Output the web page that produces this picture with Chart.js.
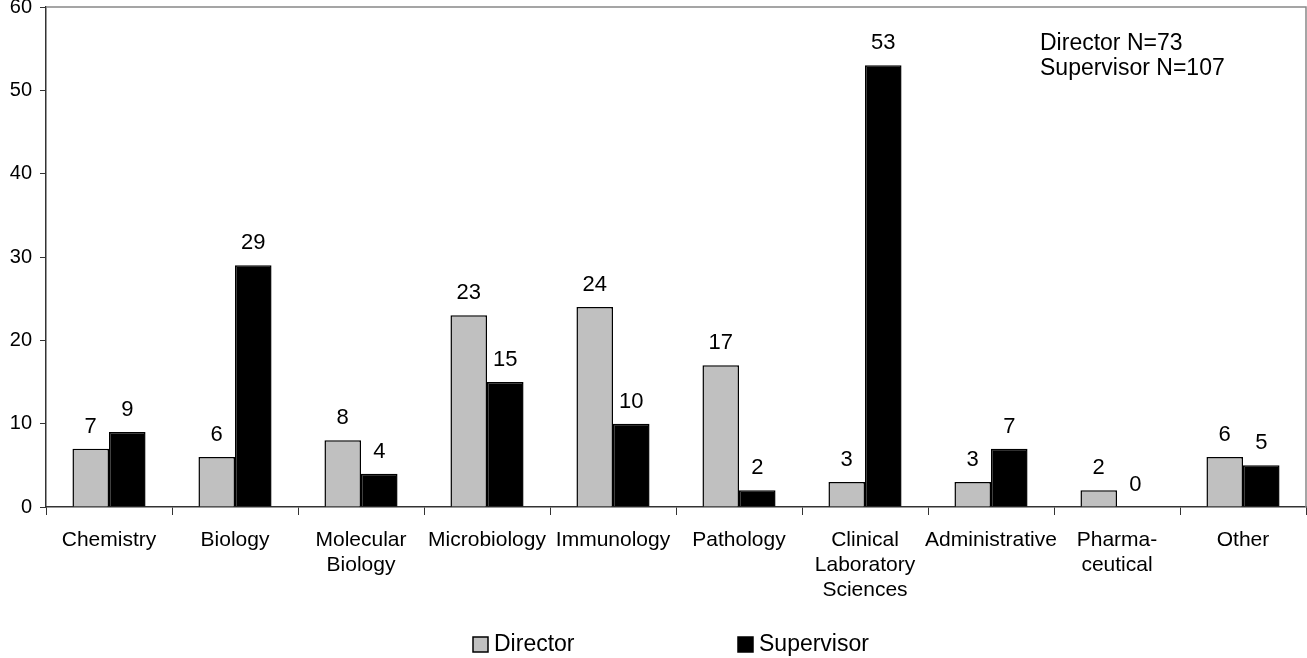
<!DOCTYPE html>
<html>
<head>
<meta charset="utf-8">
<script src="https://cdn.jsdelivr.net/npm/chart.js@4.4.1/dist/chart.umd.min.js"></script>
<style>
  html, body { margin: 0; padding: 0; background: #fff; }
  #wrap { width: 1307px; height: 658px; position: relative; }
</style>
</head>
<body>
<div id="wrap"><canvas id="chart"></canvas></div>
<script>
// Data
const categories = [
    'Chemistry', 'Biology', ['Molecular', 'Biology'], 'Microbiology', 'Immunology',
    'Pathology', ['Clinical', 'Laboratory', 'Sciences'], 'Administrative',
    ['Pharma-', 'ceutical'], 'Other'
];
const directorValues = [7, 6, 8, 23, 24, 17, 3, 3, 2, 6];
const supervisorValues = [9, 29, 4, 15, 10, 2, 53, 7, 0, 5];
const seriesNames = ['Director', 'Supervisor'];
const noteLines = ['Director N=73', 'Supervisor N=107'];
const yTicks = [0, 10, 20, 30, 40, 50, 60];

const FONT = '"Liberation Sans", Arial, sans-serif';

// Gray frame on top and right of the plot area
const framePlugin = {
    id: 'frame',
    beforeDatasetsDraw(chart) {
        const a = chart.chartArea;
        const ctx = chart.ctx;
        ctx.save();
        ctx.strokeStyle = '#888';
        ctx.lineWidth = 1.5;
        ctx.beginPath();
        ctx.moveTo(a.left, a.top);
        ctx.lineTo(a.right, a.top);
        ctx.lineTo(a.right, a.bottom);
        ctx.stroke();
        ctx.restore();
    }
};

// Value labels above each bar
const valueLabels = {
    id: 'valueLabels',
    afterDatasetsDraw(chart) {
        const ctx = chart.ctx;
        ctx.save();
        ctx.font = '22px ' + FONT;
        ctx.fillStyle = '#000';
        ctx.textAlign = 'center';
        ctx.textBaseline = 'alphabetic';
        chart.data.datasets.forEach((ds, di) => {
            const meta = chart.getDatasetMeta(di);
            meta.data.forEach((bar, i) => {
                ctx.fillText(String(ds.data[i]), bar.x, bar.y - 16);
            });
        });
        ctx.restore();
    }
};

// Legend at the bottom and the N note at top right
const extras = {
    id: 'extras',
    afterDraw(chart) {
        const ctx = chart.ctx;
        ctx.save();
        ctx.font = '23px ' + FONT;
        ctx.textBaseline = 'middle';
        ctx.textAlign = 'left';
        const legendX = [473, 738];
        chart.data.datasets.forEach((ds, i) => {
            const x = legendX[i];
            ctx.fillStyle = ds.backgroundColor;
            ctx.fillRect(x, 637, 15, 15);
            ctx.strokeStyle = '#000';
            ctx.lineWidth = 1.5;
            ctx.strokeRect(x, 637, 15, 15);
            ctx.fillStyle = '#000';
            ctx.fillText(ds.label, x + 21, 645);
        });
        ctx.textBaseline = 'alphabetic';
        noteLines.forEach((t, i) => {
            ctx.fillText(t, 1040, 50 + i * 25);
        });
        ctx.restore();
    }
};

new Chart(document.getElementById('chart'), {
    type: 'bar',
    data: {
        labels: categories,
        datasets: [{
            label: seriesNames[0],
            data: directorValues,
            backgroundColor: '#C0C0C0',
            borderColor: '#000',
            borderWidth: 1.5,
            categoryPercentage: 0.58,
            barPercentage: 1.0
        }, {
            label: seriesNames[1],
            data: supervisorValues,
            backgroundColor: '#000',
            borderColor: '#000',
            borderWidth: 1.5,
            categoryPercentage: 0.58,
            barPercentage: 1.0
        }]
    },
    options: {
        responsive: true,
        maintainAspectRatio: false,
        animation: false,
        layout: { padding: { top: 7, right: 1, left: 0, bottom: 0 } },
        plugins: {
            legend: { display: false },
            tooltip: { enabled: false }
        },
        scales: {
            x: {
                grid: {
                    display: true,
                    drawOnChartArea: false,
                    drawTicks: true,
                    tickLength: 8,
                    color: '#333',
                    offset: true
                },
                border: { display: true, color: '#333', width: 1.5 },
                ticks: {
                    color: '#000',
                    font: { family: FONT, size: 21, lineHeight: 1.19 },
                    padding: 13,
                    maxRotation: 0,
                    autoSkip: false
                },
                afterFit(scale) {
                    scale.height = 151;
                    scale.paddingLeft = 0;
                    scale.paddingRight = 0;
                }
            },
            y: {
                min: 0,
                max: 60,
                afterBuildTicks(scale) {
                    scale.ticks = yTicks.map(v => ({ value: v }));
                },
                grid: {
                    display: true,
                    drawOnChartArea: false,
                    drawTicks: true,
                    tickLength: 6,
                    color: '#333'
                },
                border: { display: true, color: '#333', width: 1.5 },
                ticks: {
                    color: '#000',
                    font: { family: FONT, size: 20 },
                    padding: 8
                },
                afterFit(scale) {
                    scale.width = 46;
                    scale.paddingTop = 0;
                    scale.paddingBottom = 0;
                }
            }
        }
    },
    plugins: [framePlugin, valueLabels, extras]
});
</script>
</body>
</html>
